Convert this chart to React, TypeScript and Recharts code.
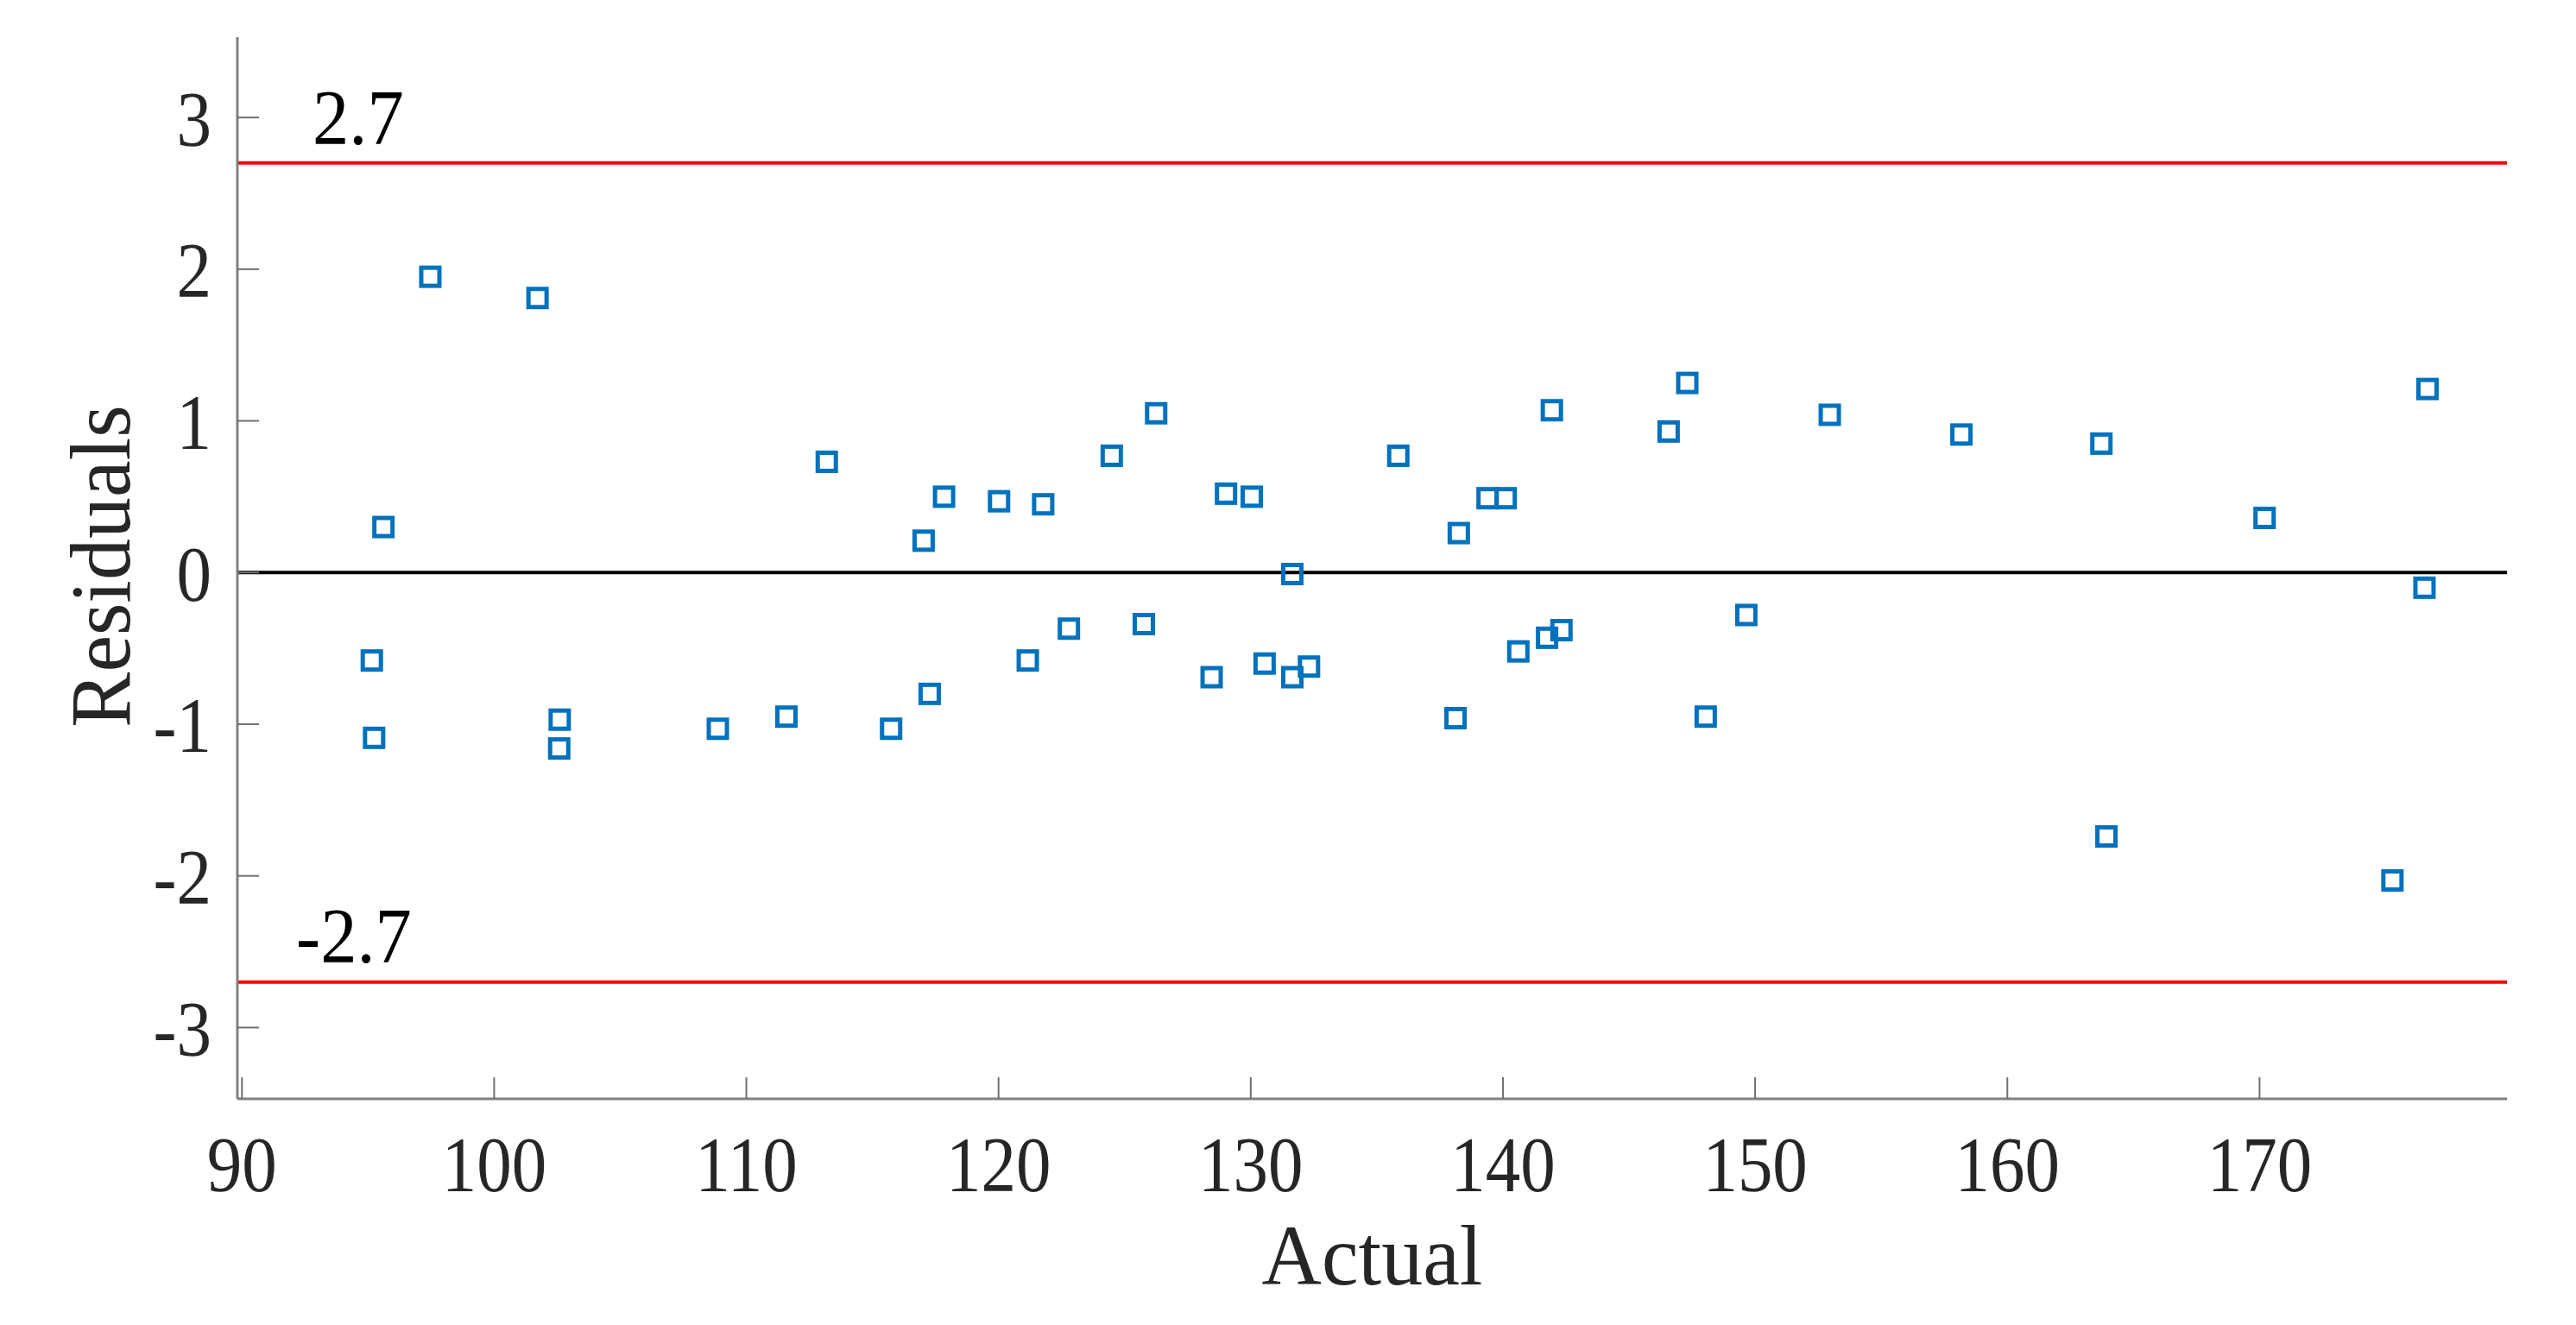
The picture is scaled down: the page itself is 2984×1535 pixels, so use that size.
import { ScatterChart, Scatter, XAxis, YAxis, ReferenceLine } from 'recharts';

// values
const actual = [
  97.47, 101.72, 95.61, 95.15, 95.24, 102.6, 102.58, 108.87, 111.59, 113.19,
  115.74, 117.03, 117.27, 117.84, 120.02, 121.16, 121.77, 122.79, 124.49, 125.76,
  126.25, 128.45, 129.02, 130.04, 130.55, 131.65, 131.65, 132.31, 135.85, 138.12,
  138.25, 139.39, 140.11, 140.61, 141.75, 141.94, 142.32, 146.57, 147.31, 148.04,
  149.65, 152.96, 158.18, 163.73, 163.93, 170.2, 175.27, 176.54, 176.66,
];
const residuals = [
  1.95, 1.81, 0.3, -0.58, -1.09, -0.97, -1.16, -1.03, -0.95, 0.73,
  -1.03, 0.21, -0.8, 0.5, 0.47, -0.58, 0.45, -0.37, 0.77, -0.34,
  1.05, -0.69, 0.52, 0.5, -0.6, -0.01, -0.69, -0.62, 0.77, -0.96,
  0.26, 0.49, 0.49, -0.52, -0.43, 1.07, -0.38, 0.93, 1.25, -0.95,
  -0.28, 1.04, 0.91, 0.85, -1.74, 0.36, -2.03, -0.1, 1.21,
];
const xTicks = [90, 100, 110, 120, 130, 140, 150, 160, 170];
const yTicks = [-3, -2, -1, 0, 1, 2, 3];
const upperLimit = 2.7;
const lowerLimit = -2.7;

const points = actual.map((x, i) => ({ x, y: residuals[i] }));

const FONT = '"Liberation Serif", "Times New Roman", serif';
const AXIS_COLOR = '#808080';
const TICK_COLOR = '#707070';
const TEXT_COLOR = '#262626';
const X_TICK_MARGIN = 107;
const Y_TICK_MARGIN = 30;
const TICK_LEN = 25;

function XTick({ x, y, payload }: any) {
  const axisY = y - X_TICK_MARGIN;
  return (
    <g>
      <line x1={x} x2={x} y1={axisY} y2={axisY - TICK_LEN} stroke={TICK_COLOR} strokeWidth={2} />
      <text
        transform={`translate(${x},${y}) scale(0.9,1)`}
        textAnchor="middle"
        fontFamily={FONT}
        fontSize={90}
        fill={TEXT_COLOR}
      >
        {payload.value}
      </text>
    </g>
  );
}

function YTick({ x, y, payload }: any) {
  const axisX = x + Y_TICK_MARGIN;
  return (
    <g>
      <line x1={axisX} x2={axisX + TICK_LEN} y1={y} y2={y} stroke={TICK_COLOR} strokeWidth={2} />
      <text
        transform={`translate(${x},${y}) scale(0.9,1)`}
        dy="0.36em"
        textAnchor="end"
        fontFamily={FONT}
        fontSize={90}
        fill={TEXT_COLOR}
      >
        {String(payload.value)}
      </text>
    </g>
  );
}

const SquareMarker = ({ cx, cy }: any) => (
  <rect x={cx - 10.5} y={cy - 10.5} width={21} height={21} fill="none" stroke="#0072BD" strokeWidth={5} />
);

const limitLabel = (text: string, dx: number, dy: number) => (p: any) => (
  <text
    transform={`translate(${p.viewBox.x + dx},${p.viewBox.y + dy}) scale(0.94,1)`}
    fontFamily={FONT}
    fontSize={90}
    fill="#000"
  >
    {text}
  </text>
);

export default function App() {
  return (
    <ScatterChart width={2968} height={1519} margin={{ top: 35, right: 72, left: 0, bottom: 0 }}>
      <XAxis
        type="number"
        dataKey="x"
        domain={[89.82, 179.81]}
        ticks={xTicks}
        interval={0}
        allowDataOverflow
        height={254}
        stroke={AXIS_COLOR}
        axisLine={{ stroke: AXIS_COLOR, strokeWidth: 3 }}
        tickLine={false}
        tickSize={0}
        tickMargin={X_TICK_MARGIN}
        tick={<XTick />}
        label={{
          content: ({ viewBox }: any) => (
            <text
              transform={`translate(${viewBox.x + viewBox.width / 2},${viewBox.y + 215}) scale(0.96,1)`}
              textAnchor="middle"
              fontFamily={FONT}
              fontSize={100}
              fill={TEXT_COLOR}
            >
              Actual
            </text>
          ),
        }}
      />
      <YAxis
        type="number"
        dataKey="y"
        domain={[-3.47, 3.53]}
        ticks={yTicks}
        interval={0}
        allowDataOverflow
        width={267}
        stroke={AXIS_COLOR}
        axisLine={{ stroke: AXIS_COLOR, strokeWidth: 3 }}
        tickLine={false}
        tickSize={0}
        tickMargin={Y_TICK_MARGIN}
        tick={<YTick />}
        label={{
          content: ({ viewBox }: any) => {
            const cx = 142;
            const cy = viewBox.y + viewBox.height / 2 - 2;
            return (
              <text
                transform={`translate(${cx},${cy}) rotate(-90) scale(0.96,1)`}
                textAnchor="middle"
                fontFamily={FONT}
                fontSize={100}
                fill={TEXT_COLOR}
              >
                Residuals
              </text>
            );
          },
        }}
      />
      <ReferenceLine y={upperLimit} stroke="#ff0000" strokeWidth={4} label={limitLabel(String(upperLimit), 87, -22)} />
      <ReferenceLine y={lowerLimit} stroke="#ff0000" strokeWidth={4} label={limitLabel(String(lowerLimit), 68, -23)} />
      <ReferenceLine y={0} stroke="#000" strokeWidth={4} />
      <Scatter data={points} shape={<SquareMarker />} isAnimationActive={false} />
    </ScatterChart>
  );
}
